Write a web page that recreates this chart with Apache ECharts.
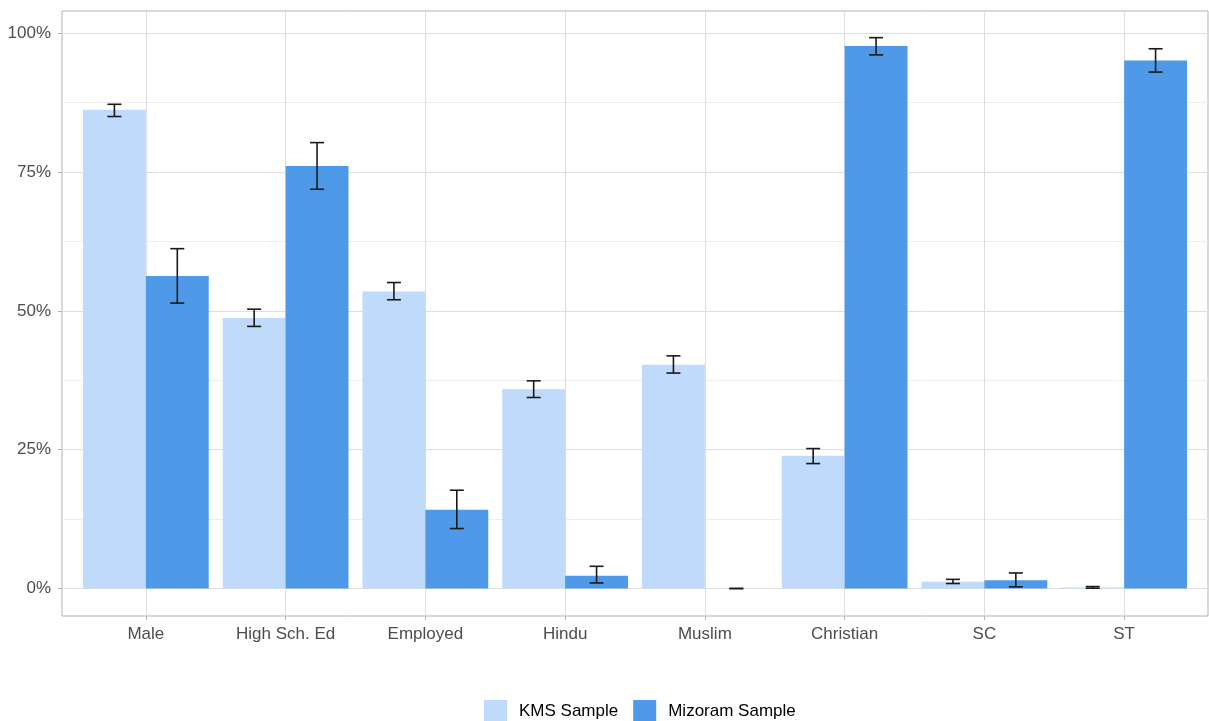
<!DOCTYPE html>
<html>
<head>
<meta charset="utf-8">
<script src="https://cdn.jsdelivr.net/npm/echarts@6/dist/echarts.min.js"></script>
<style>
html,body{margin:0;padding:0;background:#fff;}
#chart{width:1209px;height:721px;}
</style>
</head>
<body>
<div id="chart"></div>
<script>
const categories = ['Male', 'High Sch. Ed', 'Employed', 'Hindu', 'Muslim', 'Christian', 'SC', 'ST'];
const seriesNames = ['KMS Sample', 'Mizoram Sample'];
const kmsValues = [86.2, 48.7, 53.5, 35.9, 40.3, 23.9, 1.2, 0.2];
const kmsLow    = [85.0, 47.2, 52.0, 34.4, 38.8, 22.5, 0.9, 0.05];
const kmsHigh   = [87.2, 50.3, 55.1, 37.4, 41.9, 25.2, 1.65, 0.35];
const mizValues = [56.3, 76.1, 14.2, 2.3, 0, 97.7, 1.5, 95.1];
const mizLow    = [51.4, 71.9, 10.8, 1.0, 0, 96.1, 0.3, 93.0];
const mizHigh   = [61.2, 80.3, 17.7, 4.0, 0, 99.2, 2.8, 97.2];
const yTickLabels = [0, 25, 50, 75, 100];

// layout
const P = {left: 62, top: 11, right: 1208, bottom: 616};
const W = P.right - P.left, H = P.bottom - P.top;
const yMin = -4.95, yMax = 104.0;
const unit = W / (categories.length + 0.2);
const pxPer = H / (yMax - yMin);
const y0 = P.bottom - (0 - yMin) * pxPer;
const y100 = P.bottom - (100 - yMin) * pxPer;

const font = 'Liberation Sans, Arial, Helvetica, sans-serif';
const colKMS = '#C0DAFB';
const colMiz = '#4E9AE8';

function errData(lo, hi) { return lo.map((v, i) => [i, v, hi[i]]); }
function errRender(offsetFrac) {
  return function (params, api) {
    const i = api.value(0), lo = api.value(1), hi = api.value(2);
    const bw = api.size([1, 0])[0];
    const pLo = api.coord([i, lo]);
    const pHi = api.coord([i, hi]);
    const x = pLo[0] + offsetFrac * bw;
    const hw = 7;
    const style = {stroke: '#1a1a1a', lineWidth: 1.6, fill: null};
    return {
      type: 'group',
      children: [
        {type: 'line', shape: {x1: x, y1: pLo[1], x2: x, y2: pHi[1]}, style: style},
        {type: 'line', shape: {x1: x - hw, y1: pLo[1], x2: x + hw, y2: pLo[1]}, style: style},
        {type: 'line', shape: {x1: x - hw, y1: pHi[1], x2: x + hw, y2: pHi[1]}, style: style}
      ]
    };
  };
}

const chart = echarts.init(document.getElementById('chart'), null, {renderer: 'canvas'});

const option = {
  backgroundColor: '#fff',
  animation: false,
  textStyle: {fontFamily: font},
  legend: {
    data: seriesNames,
    left: 484, top: 700, padding: 0,
    itemWidth: 23, itemHeight: 23, itemGap: 15,
    icon: 'rect',
    textStyle: {fontSize: 17, color: '#000', fontFamily: font, padding: [0, 0, 0, 7]}
  },
  grid: [
    // 0: bars
    {left: P.left + 0.1 * unit, top: P.top, width: categories.length * unit, height: H},
    // 1: panel border
    {left: P.left, top: P.top, width: W, height: H, show: true, borderColor: '#B3B3B3', borderWidth: 1, backgroundColor: 'transparent'},
    // 2: horizontal gridlines + y labels
    {left: P.left, top: y100, width: W, height: y0 - y100},
    // 3: vertical gridlines + x labels
    {left: P.left + 0.6 * unit, top: P.top, width: (categories.length - 1) * unit, height: H}
  ],
  xAxis: [
    {gridIndex: 0, type: 'category', data: categories, boundaryGap: true, show: false},
    {gridIndex: 1, type: 'category', data: categories, show: false},
    {gridIndex: 2, type: 'category', data: categories, show: false},
    {gridIndex: 3, type: 'category', data: categories, boundaryGap: false,
      axisLine: {show: false},
      axisTick: {show: true, length: 4, lineStyle: {color: '#B3B3B3', width: 1}},
      splitLine: {show: true, lineStyle: {color: '#DEDEDE', width: 1}},
      axisLabel: {interval: 0, margin: 10, fontSize: 17, color: '#4D4D4D', fontFamily: font}
    }
  ],
  yAxis: [
    {gridIndex: 0, type: 'value', min: yMin, max: yMax, show: false, splitLine: {show: false}},
    {gridIndex: 1, type: 'value', show: false, splitLine: {show: false}},
    {gridIndex: 2, type: 'value', min: yTickLabels[0], max: yTickLabels[yTickLabels.length - 1],
      interval: yTickLabels[1] - yTickLabels[0],
      axisLine: {show: false},
      axisTick: {show: true, length: 4, lineStyle: {color: '#B3B3B3', width: 1}},
      splitLine: {show: true, lineStyle: {color: '#DEDEDE', width: 1}},
      minorTick: {show: false, splitNumber: 2},
      minorSplitLine: {show: true, lineStyle: {color: '#EDEDED', width: 1}},
      axisLabel: {margin: 11, fontSize: 17, color: '#4D4D4D', fontFamily: font, formatter: '{value}%', padding: [4, 0, 0, 0]}
    },
    {gridIndex: 3, type: 'value', show: false, splitLine: {show: false}}
  ],
  series: [
    {name: seriesNames[0], type: 'bar', xAxisIndex: 0, yAxisIndex: 0, data: kmsValues,
      barGap: '0%', barCategoryGap: '10%', itemStyle: {color: colKMS}, z: 2},
    {name: seriesNames[1], type: 'bar', xAxisIndex: 0, yAxisIndex: 0, data: mizValues,
      barGap: '0%', barCategoryGap: '10%', itemStyle: {color: colMiz}, z: 2},
    {name: 'kmsErr', type: 'custom', xAxisIndex: 0, yAxisIndex: 0, data: errData(kmsLow, kmsHigh),
      renderItem: errRender(-0.225), encode: {x: 0, y: [1, 2]}, z: 5, silent: true},
    {name: 'mizErr', type: 'custom', xAxisIndex: 0, yAxisIndex: 0, data: errData(mizLow, mizHigh),
      renderItem: errRender(0.225), encode: {x: 0, y: [1, 2]}, z: 5, silent: true}
  ]
};
chart.setOption(option);
</script>
</body>
</html>
